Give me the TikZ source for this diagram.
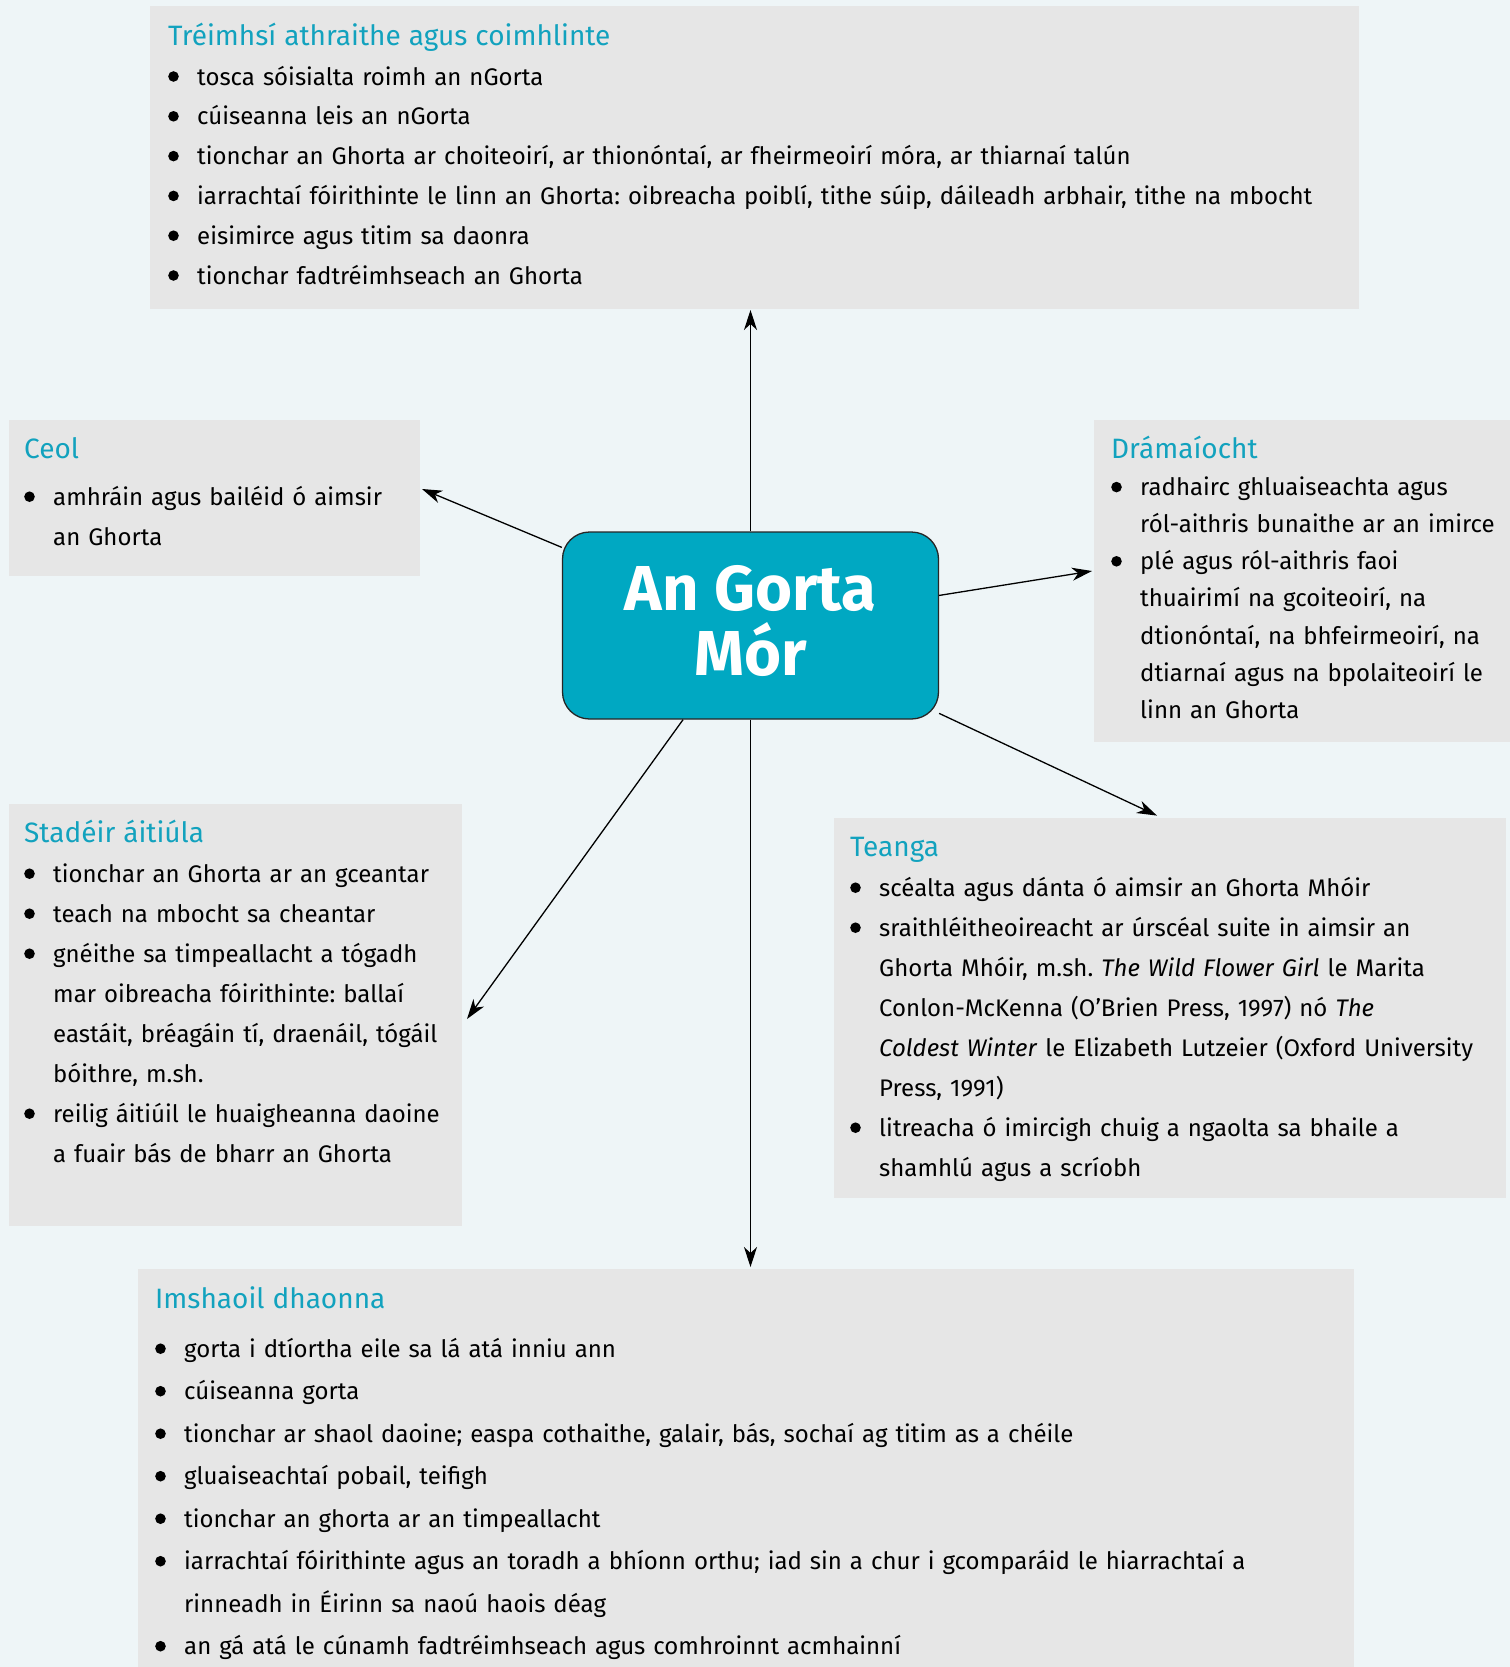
\documentclass[tikz,border=0pt]{standalone}
\usepackage{fontspec}
\setmainfont{Fira Sans}
\usetikzlibrary{arrows.meta}
\definecolor{bgc}{HTML}{EEF5F7}
\definecolor{boxc}{HTML}{E6E6E6}
\definecolor{tealt}{HTML}{12A2BE}
\definecolor{centc}{HTML}{00A8C2}
\setlength{\parindent}{0pt}
\frenchspacing
\newcommand\fs{24bp}
\newcommand\hd[1]{{\fontsize{28bp}{30bp}\selectfont\color{tealt}\rule{0pt}{30bp}#1}}
\newcommand\bdot{\smash{\tikz[baseline={(0pt,-8.5bp)}]\fill[black] (6.4bp,0pt) circle[radius=5.3bp];}}
\newcommand\bl[1]{\mbox{\makebox[29bp][l]{\bdot}#1}}
\newcommand\cl[1]{\mbox{\hspace*{29bp}#1}}
\tikzset{
  panel/.style={fill=boxc, inner sep=0pt, anchor=north west},
  tbox/.style={anchor=north west, inner sep=0pt, align=left, text width=#1},
  arr/.style={line width=1.3bp, -{Stealth[length=20bp,width=13bp,inset=6bp]}},
}
\begin{document}
\begin{tikzpicture}[x=1bp,y=-1bp]
\useasboundingbox (0,0) rectangle (1510,1667);
\fill[bgc] (0,0) rectangle (1510,1667);

% panels
\node[panel, minimum width=1209bp, minimum height=303bp] (top) at (150,6) {};
\node[panel, minimum width=411.5bp, minimum height=156bp] (ceol) at (8.5,420) {};
\node[panel, minimum width=416bp, minimum height=322bp] (drama) at (1094,420) {};
\node[panel, minimum width=453bp, minimum height=422bp] (stad) at (8.5,804) {};
\node[panel, minimum width=672bp, minimum height=380bp] (teanga) at (834,818) {};
\node[panel, minimum width=1216bp, minimum height=398bp] (imsh) at (138,1269) {};

% texts
\node[tbox=1185bp, font=\fontsize{\fs}{39.8bp}\selectfont] (topT) at (168,15) {%
\hd{Tréimhsí athraithe agus coimhlinte}\\
\bl{tosca sóisialta roimh an nGorta}\\
\bl{cúiseanna leis an nGorta}\\
\bl{tionchar an Ghorta ar choiteoirí, ar thionóntaí, ar fheirmeoirí móra, ar thiarnaí talún}\\
\bl{iarrachtaí fóirithinte le linn an Ghorta: oibreacha poiblí, tithe súip, dáileadh arbhair, tithe na mbocht}\\
\bl{eisimirce agus titim sa daonra}\\
\bl{tionchar fadtréimhseach an Ghorta}};

\node[tbox=390bp, font=\fontsize{\fs}{40bp}\selectfont] (ceolT) at (24,428.3) {%
\hd{Ceol}\\[6.7bp]
\bl{amhráin agus bailéid ó aimsir}\\
\cl{an Ghorta}};

\node[tbox=390bp, font=\fontsize{\fs}{37.1bp}\selectfont] (dramaT) at (1111,428.3) {%
\hd{Drámaíocht}\\
\bl{radhairc ghluaiseachta agus}\\
\cl{ról-aithris bunaithe ar an imirce}\\
\bl{plé agus ról-aithris faoi}\\
\cl{thuairimí na gcoiteoirí, na}\\
\cl{dtionóntaí, na bhfeirmeoirí, na}\\
\cl{dtiarnaí agus na bpolaiteoirí le}\\
\cl{linn an Ghorta}};

\node[tbox=425bp, font=\fontsize{\fs}{40bp}\selectfont] (stadT) at (24,812) {%
\hd{Stadéir áitiúla}\\
\bl{tionchar an Ghorta ar an gceantar}\\
\bl{teach na mbocht sa cheantar}\\
\bl{gnéithe sa timpeallacht a tógadh}\\
\cl{mar oibreacha fóirithinte: ballaí}\\
\cl{eastáit, bréagáin tí, draenáil, tógáil}\\
\cl{bóithre, m.sh.}\\
\bl{reilig áitiúil le huaigheanna daoine}\\
\cl{a fuair bás de bharr an Ghorta}};

\node[tbox=640bp, font=\fontsize{\fs}{40bp}\selectfont] (teangaT) at (850,826) {%
\hd{Teanga}\\
\bl{scéalta agus dánta ó aimsir an Ghorta Mhóir}\\
\bl{sraithléitheoireacht ar úrscéal suite in aimsir an}\\
\cl{Ghorta Mhóir, m.sh. \textit{The Wild Flower Girl} le Marita}\\
\cl{Conlon-McKenna (O’Brien Press, 1997) nó \textit{The}}\\
\cl{\textit{Coldest Winter} le Elizabeth Lutzeier (Oxford University}\\
\cl{Press, 1991)}\\
\bl{litreacha ó imircigh chuig a ngaolta sa bhaile a}\\
\cl{shamhlú agus a scríobh}};

\node[tbox=1180bp, font=\fontsize{\fs}{42.5bp}\selectfont] (imshT) at (155,1278) {%
\hd{Imshaoil dhaonna}\\[6.5bp]
\bl{gorta i dtíortha eile sa lá atá inniu ann}\\
\bl{cúiseanna gorta}\\
\bl{tionchar ar shaol daoine; easpa cothaithe, galair, bás, sochaí ag titim as a chéile}\\
\bl{gluaiseachtaí pobail, teifigh}\\
\bl{tionchar an ghorta ar an timpeallacht}\\
\bl{iarrachtaí fóirithinte agus an toradh a bhíonn orthu; iad sin a chur i gcomparáid le hiarrachtaí a}\\
\cl{rinneadh in Éirinn sa naoú haois déag}\\
\bl{an gá atá le cúnamh fadtréimhseach agus comhroinnt acmhainní}};

% centre
\node[draw=black!85, line width=1.3bp, fill=centc, rounded corners=27bp,
      minimum width=376bp, minimum height=187bp, inner sep=0pt, align=center,
      text=white, font=\fontsize{63.5bp}{65bp}\selectfont\bfseries] (c) at (750.5,625.5) {An Gorta\\Mór\rule[-10bp]{0pt}{0pt}};

% arrow ends
\coordinate (upE) at (750.5,310);
\coordinate (downE) at (750.5,1267);
\coordinate (ceolE) at (422,489);
\coordinate (dramaE) at (1092,571);
\coordinate (teangaE) at (1157,815.6);
\coordinate (stadE) at (467,1019);

\draw[arr] (c) -- (upE);
\draw[arr] (c) -- (downE);
\draw[arr] (c) -- (ceolE);
\draw[arr] (c) -- (dramaE);
\draw[arr] (c) -- (teangaE);
\draw[arr] (c) -- (stadE);
\end{tikzpicture}
\end{document}
